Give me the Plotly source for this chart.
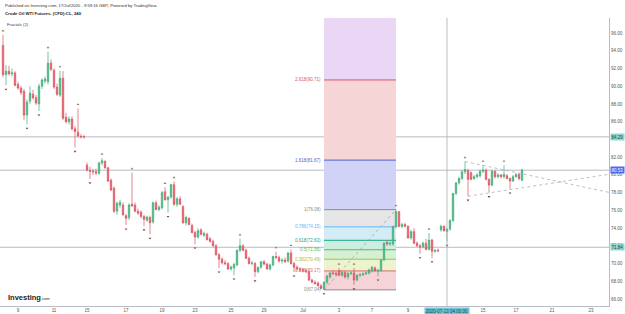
import plotly.graph_objects as go

# ---------------- data ----------------
opens = [94.6,91.3,91.7,91.4,91.5,90.2,89.8,89.4,86.75,88.3,89.1,88.7,88.0,90.0,90.6,90.5,92.6,91.8,89.9,89.0,
         90.9,86.5,86.0,86.3,85.2,84.8,84.35,84.3,81.1,80.5,80.4,80.35,80.2,81.35,81.5,80.8,79.4,78.5,75.9,76.6,
         76.6,75.4,75.2,76.7,76.6,75.9,75.8,75.3,74.9,75.2,74.7,76.85,76.1,76.3,78.1,77.2,77.5,78.9,76.7,77.3,
         76.4,74.6,75.1,74.3,73.5,73.0,73.8,73.2,73.3,72.8,72.5,72.0,71.0,70.5,70.1,70.0,69.4,69.5,69.85,71.5,
         72.0,71.5,70.6,70.0,70.0,69.1,69.6,70.2,69.95,69.4,69.85,70.8,70.7,70.3,70.4,70.3,71.2,70.0,69.6,69.4,
         69.3,69.2,69.1,68.15,67.9,67.8,67.5,67.1,67.9,68.5,68.95,68.9,69.2,68.7,69.0,68.5,68.9,68.95,68.15,68.7,
         68.75,68.85,68.9,69.2,69.5,69.2,69.2,70.4,72.4,72.2,72.2,74.15,75.85,74.2,74.4,74.2,72.9,73.6,72.3,72.0,
         71.9,72.3,71.6,72.65,71.4,71.5,73.8,74.2,73.6,73.9,74.85,77.9,79.1,79.6,80.35,80.5,80.25,79.6,79.8,79.9,
         80.4,80.55,79.5,78.85,80.4,79.8,80.0,79.8,79.9,79.6,79.3,79.8,80.05,79.4]
highs = [95.8,92.4,92.3,92.0,91.7,90.5,90.0,89.7,88.5,90.0,89.6,89.0,90.3,90.9,91.1,93.9,93.0,92.0,90.3,91.75,
         91.7,87.0,86.6,86.6,85.5,87.5,84.6,84.5,81.4,80.9,80.7,80.7,81.5,81.9,81.7,80.9,79.6,78.7,77.0,77.2,
         76.9,75.6,76.8,80.25,76.9,76.2,76.0,75.5,75.4,75.4,77.0,77.1,76.6,78.2,78.6,77.6,79.0,79.25,77.5,77.6,
         76.6,75.4,75.2,74.5,73.7,74.0,74.0,73.6,73.5,73.0,72.7,72.2,71.2,70.7,70.4,70.2,69.8,70.1,71.6,72.8,
         72.2,71.7,70.8,70.3,70.2,69.7,70.3,70.4,70.1,70.0,70.9,71.35,70.9,70.6,70.7,71.3,71.6,70.2,69.8,69.6,
         69.5,69.4,69.2,68.3,68.1,68.0,67.7,68.0,68.7,69.1,69.2,69.1,69.5,69.2,69.2,69.0,69.1,69.5,68.8,68.9,
         69.0,69.1,69.4,69.7,69.7,69.4,70.5,72.4,72.6,72.5,74.3,76.08,75.9,74.6,74.6,74.3,73.8,74.0,72.5,72.2,
         72.5,72.8,73.45,72.8,71.6,71.7,74.4,74.3,74.0,75.0,78.0,79.2,79.8,80.5,81.5,80.7,80.4,80.0,80.2,80.6,
         81.1,80.7,79.6,80.6,80.5,80.2,80.1,81.1,80.1,79.7,80.0,80.2,80.2,80.7]
lows = [91.0,90.1,91.2,91.1,90.0,89.6,89.0,86.2,85.7,88.0,88.5,87.9,87.2,89.7,90.3,90.2,91.7,89.7,88.9,88.8,
        86.2,85.8,85.7,85.0,83.1,84.2,84.1,84.1,80.4,79.55,80.0,80.0,80.0,81.1,80.7,79.2,78.2,75.7,75.5,76.3,
        75.4,74.35,74.9,76.4,75.8,75.5,75.1,74.25,74.7,73.3,74.5,76.0,75.9,76.1,77.1,75.75,77.3,76.5,76.4,76.6,
        74.5,74.3,74.3,73.4,72.2,72.8,73.2,73.0,72.6,72.4,71.9,70.9,69.5,69.9,69.8,69.3,69.2,68.7,69.7,71.3,
        71.4,70.5,69.9,69.8,68.5,68.9,69.4,69.8,69.3,69.2,69.7,70.5,70.1,70.0,70.1,70.1,69.9,69.05,69.2,69.1,
        69.0,68.9,68.0,67.8,67.6,67.4,67.1,67.04,67.7,68.3,68.7,68.6,68.6,68.5,68.3,68.2,68.7,67.6,68.0,68.5,
        68.6,68.7,68.8,69.0,69.1,68.6,69.1,70.3,72.0,72.0,72.0,74.0,74.1,74.0,74.1,72.8,72.7,72.2,71.9,71.1,
        71.7,71.5,71.5,70.65,71.2,71.3,73.6,73.6,72.5,73.7,74.7,77.7,78.9,79.4,80.1,77.6,79.4,79.4,79.6,79.7,
        80.2,79.4,78.0,78.7,79.6,79.6,79.6,79.6,79.5,78.4,79.2,79.7,79.4,79.3]
closes = [91.3,91.7,91.4,91.5,90.1,89.8,89.3,86.75,88.2,89.2,88.7,88.1,90.0,90.7,90.8,92.6,91.9,89.9,89.1,90.9,
          86.4,86.0,86.3,85.2,84.9,84.4,84.3,84.29,80.55,80.4,80.35,80.2,81.35,81.6,80.8,79.3,78.3,75.9,76.8,76.9,
          75.5,75.1,76.6,76.5,75.9,75.7,75.3,75.0,75.25,74.6,76.85,76.1,76.35,78.0,77.2,77.5,78.9,76.7,77.3,76.7,
          74.6,75.2,74.4,73.5,73.0,73.7,73.3,73.4,72.7,72.5,72.0,71.0,70.5,70.1,70.0,69.4,69.6,69.9,71.5,72.0,
          71.5,70.6,70.0,70.05,69.1,69.55,70.2,69.95,69.4,69.85,70.8,70.7,70.3,70.4,70.2,71.2,70.0,69.6,69.4,69.3,
          69.2,69.1,68.15,67.9,67.75,67.5,67.2,67.9,68.6,68.95,68.9,68.8,68.7,69.0,68.5,68.9,68.95,68.15,68.7,68.75,
          68.85,68.95,69.3,69.6,69.2,69.25,70.4,72.3,72.2,72.3,74.15,75.85,74.2,74.4,74.2,72.9,73.6,72.3,72.0,71.9,
          72.3,71.6,72.65,71.4,71.5,71.45,74.2,73.7,73.9,74.85,77.9,79.1,79.6,80.35,80.6,79.5,79.5,79.8,80.0,80.4,
          80.55,79.5,78.85,80.4,79.8,80.0,79.8,80.05,79.6,79.3,79.8,80.05,79.6,80.53]

up_fractal_idx = [0, 15, 19, 25, 33, 43, 54, 57, 79, 91, 96, 112, 117, 131, 142, 154, 160, 167]
down_fractal_idx = [1, 8, 12, 24, 29, 41, 47, 49, 55, 64, 72, 77, 84, 97, 107, 117, 125, 139, 143, 148, 155, 162, 169]

tick_idx = [5, 17, 28, 41, 53, 64, 76, 87, 100, 112, 123, 135, 160, 171, 183, 196]
tick_text = ["9", "11", "15", "17", "19", "23", "25", "29", "Jul", "3", "7", "9", "15", "17", "21", "23"]

price_ticks = [66, 68, 70, 72, 74, 76, 78, 80, 82, 86, 88, 90, 92, 94, 96]

fib_start_idx, fib_end_idx = 107, 131
fib_low, fib_high = 67.04, 76.08
fib_ratios = [0, 0.236, 0.382, 0.5, 0.618, 0.786, 1, 1.618, 2.618, 3.618]
fib_line_colors = ["#8a8a8a", "#e06a6a", "#a8c040", "#5cb85c", "#17a589", "#64b5f6", "#8a8a8a", "#5560c8", "#d05a70", "#a050c0"]
fib_fill_colors = ["#f6d3d6", "#ecf4cf", "#d6f0d6", "#cdeedf", "#d3ecf6", "#e6e6e8", "#d0d3f6", "#f5d5d5", "#ead7f6"]

hlines = [84.29, 80.53, 71.84]
hline_label_bg = ["#8fd8cf", "#4a6cf0", "#8fd8cf"]
hline_label_fg = ["#1d3d3a", "#ffffff", "#1d3d3a"]

tri_upper_idx, tri_upper_px = [154, 202], [81.5, 78.03]
tri_lower_idx, tri_lower_px = [155, 202], [77.6, 80.07]

crosshair_idx = 148
crosshair_text = "2020-07-13 04:00:00"

x_range = [-1, 202]
y_range = [65.22, 97.69]

# ---------------- figure ----------------
idx = list(range(len(closes)))
FONT = "Liberation Sans, Arial, sans-serif"
fig = go.Figure()

fig.add_trace(go.Candlestick(
    x=idx, open=opens, high=highs, low=lows, close=closes,
    increasing=dict(line=dict(color="#3dae78", width=0.7), fillcolor="#53b987"),
    decreasing=dict(line=dict(color="#d9505c", width=0.7), fillcolor="#eb6a74"),
    whiskerwidth=0, hoverinfo="skip", showlegend=False))

off = 0.45
fig.add_trace(go.Scatter(
    x=up_fractal_idx, y=[highs[i] + off for i in up_fractal_idx], mode="markers",
    marker=dict(symbol="triangle-up", size=2.5, color="#7d8a4a"), hoverinfo="skip", showlegend=False))
fig.add_trace(go.Scatter(
    x=down_fractal_idx, y=[lows[i] - off for i in down_fractal_idx], mode="markers",
    marker=dict(symbol="triangle-down", size=2.5, color="#7a4545"), hoverinfo="skip", showlegend=False))

shapes = []
annotations = []

# fib retracement
fib_prices = [fib_low + r * (fib_high - fib_low) for r in fib_ratios]
for k in range(len(fib_prices) - 1):
    shapes.append(dict(type="rect", xref="x", yref="y", x0=fib_start_idx, x1=fib_end_idx,
                       y0=fib_prices[k], y1=fib_prices[k + 1], fillcolor=fib_fill_colors[k],
                       line=dict(width=0), layer="below"))
for k, (r, p) in enumerate(zip(fib_ratios, fib_prices)):
    shapes.append(dict(type="line", xref="x", yref="y", x0=fib_start_idx, x1=fib_end_idx,
                       y0=p, y1=p, line=dict(color=fib_line_colors[k], width=1), layer="below"))
    if p < y_range[1]:
        annotations.append(dict(x=fib_start_idx, y=p, xref="x", yref="y", xanchor="right", yanchor="middle",
                                xshift=-1, showarrow=False, text=f"{r:g}({p:.2f})",
                                font=dict(size=4.5, color=fib_line_colors[k], family=FONT)))
fig.add_trace(go.Scatter(x=[fib_start_idx, fib_end_idx], y=[fib_low, fib_high], mode="lines",
                         line=dict(color="#9a9a9a", width=0.7, dash="dot"), hoverinfo="skip", showlegend=False))

# horizontal lines + price labels
for p, bg, fg in zip(hlines, hline_label_bg, hline_label_fg):
    shapes.append(dict(type="line", xref="paper", yref="y", x0=0, x1=1, y0=p, y1=p,
                       line=dict(color="#b8bcc4", width=1), layer="below"))
    annotations.append(dict(x=1, y=p, xref="paper", yref="y", xanchor="left", yanchor="middle", xshift=1,
                            showarrow=False, text=f"{p:.2f}", bgcolor=bg, borderpad=0.6,
                            font=dict(size=4.5, color=fg, family=FONT)))

# triangle trend lines
fig.add_trace(go.Scatter(x=tri_upper_idx, y=tri_upper_px, mode="lines",
                         line=dict(color="#a0a4ac", width=0.7, dash="dot"), hoverinfo="skip", showlegend=False))
fig.add_trace(go.Scatter(x=tri_lower_idx, y=tri_lower_px, mode="lines",
                         line=dict(color="#a0a4ac", width=0.7, dash="dot"), hoverinfo="skip", showlegend=False))

# crosshair vertical
shapes.append(dict(type="line", xref="x", yref="paper", x0=crosshair_idx, x1=crosshair_idx, y0=0, y1=1,
                   line=dict(color="#a8acb4", width=0.8)))
annotations.append(dict(x=crosshair_idx, y=0, xref="x", yref="paper", xanchor="center", yanchor="top",
                        yshift=-1, showarrow=False, text=crosshair_text, bgcolor="#6cc8d8", borderpad=0.8,
                        font=dict(size=4.5, color="#1d3d45", family=FONT)))

# header texts
annotations += [
    dict(x=0.005, y=1.042, xref="paper", yref="paper", xanchor="left", yanchor="middle", showarrow=False,
         text="Published on Investing.com, 17/Jul/2020 - 9:59:16 GMT, Powered by TradingView.",
         font=dict(size=4.2, color="#333333", family=FONT)),
    dict(x=0.005, y=1.014, xref="paper", yref="paper", xanchor="left", yanchor="middle", showarrow=False,
         text="<b>Crude Oil WTI Futures, (CFD):CL, 240</b>",
         font=dict(size=4.3, color="#222222", family=FONT)),
    dict(x=0.008, y=0.979, xref="paper", yref="paper", xanchor="left", yanchor="middle", showarrow=False,
         text="Fractals (2)", font=dict(size=4.2, color="#444444", family=FONT)),
    dict(x=0.01, y=0.03, xref="paper", yref="paper", xanchor="left", yanchor="middle", showarrow=False,
         text="<b>Investing</b><span style='font-size:4px'>.com</span>",
         font=dict(size=7.5, color="#222222", family=FONT)),
]

fig.update_layout(
    width=625, height=314, margin=dict(l=0, r=16, t=18, b=8),
    paper_bgcolor="white", plot_bgcolor="white",
    shapes=shapes, annotations=annotations, showlegend=False, hovermode=False,
    xaxis=dict(range=x_range, rangeslider=dict(visible=False), showgrid=False, zeroline=False,
               tickmode="array", tickvals=tick_idx, ticktext=tick_text, ticks="",
               tickfont=dict(size=4.5, color="#555555", family=FONT),
               showline=True, linecolor="#b8bcc4", linewidth=1, automargin=False),
    yaxis=dict(range=y_range, side="right", showgrid=False, zeroline=False,
               tickmode="array", tickvals=price_ticks, ticktext=[f"{v:.2f}" for v in price_ticks],
               ticks="", tickfont=dict(size=4.5, color="#555555", family=FONT),
               showline=True, linecolor="#b8bcc4", linewidth=1, automargin=False),
)

fig.write_html("out.html")
